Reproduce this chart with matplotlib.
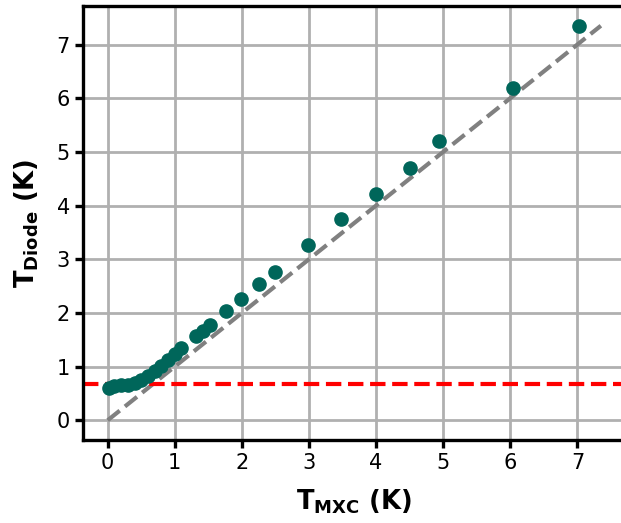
import matplotlib
matplotlib.use("Agg")
import matplotlib.pyplot as plt

# T_MXC vs T_Diode readings (K)
t_mxc = [0.02, 0.1, 0.2, 0.3, 0.4, 0.5, 0.6, 0.7, 0.8, 0.9, 1.0, 1.1,
         1.32, 1.42, 1.52, 1.76, 1.98, 2.26, 2.5, 2.98, 3.48, 4.0, 4.5,
         4.94, 6.04, 7.03]
t_diode = [0.61, 0.64, 0.65, 0.66, 0.70, 0.75, 0.83, 0.92, 1.01, 1.13,
           1.23, 1.34, 1.57, 1.67, 1.77, 2.03, 2.25, 2.54, 2.77, 3.27,
           3.75, 4.22, 4.70, 5.21, 6.19, 7.34]
ident = [0, 7.35]          # y = x reference
floor_temp = 0.67          # diode saturation level

fig = plt.figure(figsize=(6.21, 5.23), dpi=100)
ax = fig.add_axes([0.1337, 0.1587, 0.8736, 0.8298])

ax.plot(ident, ident, "--", color="#808080", lw=3, zorder=2)
ax.axhline(floor_temp, ls="--", color="#ff0000", lw=3, zorder=2)
ax.plot(t_mxc, t_diode, "o", color="#00665a", ms=9.5, zorder=3)

ax.set_xlim(-0.3675, 7.7175)
ax.set_ylim(-0.3675, 7.7175)
ax.set_xticks(range(8)); ax.set_yticks(range(8))
ax.grid(True, color="#b0b0b0", lw=2)
ax.set_axisbelow(True)
for s in ax.spines.values():
    s.set_linewidth(2.4)
ax.tick_params(labelsize=15, width=2.4, length=6)
ax.set_xlabel(r"$\mathbf{T_{MXC}}$ (K)", fontsize=18.5, fontweight="bold", labelpad=10)
ax.set_ylabel(r"$\mathbf{T_{Diode}}$ (K)", fontsize=18.5, fontweight="bold", labelpad=11)

fig.savefig("out.png", dpi=100)
